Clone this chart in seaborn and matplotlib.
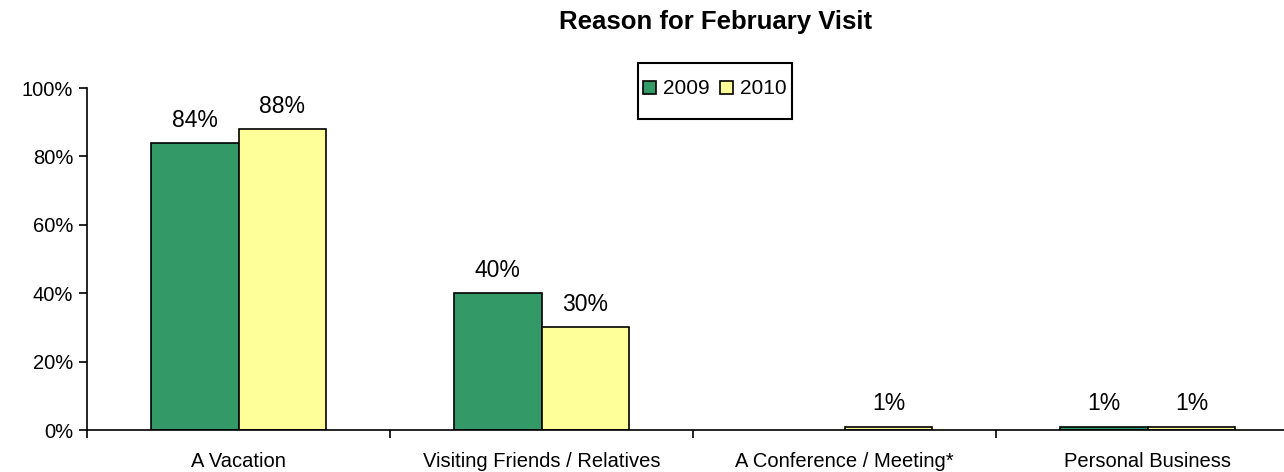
import matplotlib
matplotlib.use("Agg")
import matplotlib.pyplot as plt
from matplotlib.patches import Rectangle
from matplotlib.ticker import FixedLocator, PercentFormatter
import numpy as np
import pandas as pd
import seaborn as sns

# data
categories = ["A Vacation", "Visiting Friends / Relatives",
              "A Conference / Meeting*", "Personal Business"]
years = ["2009", "2010"]
share_2009 = [0.84, 0.40, np.nan, 0.01]
share_2010 = [0.88, 0.30, 0.01, 0.01]

df = pd.DataFrame({
    "reason": categories * 2,
    "year": [years[0]] * 4 + [years[1]] * 4,
    "share": share_2009 + share_2010,
})

sns.set_style("white")
plt.rcParams["font.family"] = ["Liberation Sans", "DejaVu Sans"]
plt.rcParams["text.color"] = "black"
plt.rcParams["xtick.color"] = "black"
plt.rcParams["ytick.color"] = "black"

FS = 14.5

fig = plt.figure(figsize=(12.84, 4.72), dpi=100)
ax = fig.add_axes([87 / 1284, 42 / 472, 1212 / 1284, 342 / 472])

sns.barplot(data=df, x="reason", y="share", hue="year", order=categories,
            hue_order=years, palette=["#339966", "#FFFF99"], width=0.58,
            edgecolor="black", linewidth=1.2, saturation=1, ax=ax)

# value labels above bars
for cont in ax.containers:
    vals = cont.datavalues
    labels = ["" if np.isnan(v) else f"{v:.0%}" for v in vals]
    ax.bar_label(cont, labels=labels, padding=8, fontsize=16.5)

ax.set_xlim(-0.5, 3.5)
ax.set_ylim(0, 1)
ax.yaxis.set_major_locator(FixedLocator([0, 0.2, 0.4, 0.6, 0.8, 1.0]))
ax.yaxis.set_major_formatter(PercentFormatter(1.0, decimals=0))
ax.tick_params(axis="y", direction="out", length=6, width=1.2,
               labelsize=FS, left=True, pad=4)

# category boundaries as ticks, names centred between them
ax.set_xticks([-0.5, 0.5, 1.5, 2.5, 3.5])
ax.set_xticklabels([])
ax.set_xticks(range(4), minor=True)
ax.set_xticklabels(categories, minor=True, fontsize=FS)
ax.tick_params(axis="x", which="major", direction="out", length=6,
               width=1.2, bottom=True)
ax.tick_params(axis="x", which="minor", length=0, pad=16)

ax.set_xlabel("")
ax.set_ylabel("")
for side in ["top", "right"]:
    ax.spines[side].set_visible(False)
for side in ["left", "bottom"]:
    ax.spines[side].set_linewidth(1.2)
    ax.spines[side].set_color("black")

# legend with a plain black box
handles, labs = ax.get_legend_handles_labels()
ax.legend(handles, labs, ncol=2, frameon=False, fontsize=15,
          loc="center", bbox_to_anchor=(715 / 1284, 1 - 89 / 472),
          bbox_transform=fig.transFigure, handlelength=0.6,
          handleheight=0.6, handletextpad=0.35, columnspacing=0.5)
fig.patches.append(Rectangle((638 / 1284, 1 - 119 / 472), 154 / 1284,
                             56 / 472, transform=fig.transFigure,
                             fill=False, edgecolor="black", linewidth=1.5))

fig.text(716 / 1284, 1 - 22 / 472, "Reason for February Visit",
         ha="center", va="center", fontsize=18.5, fontweight="bold")

fig.savefig("out.png", dpi=100)
